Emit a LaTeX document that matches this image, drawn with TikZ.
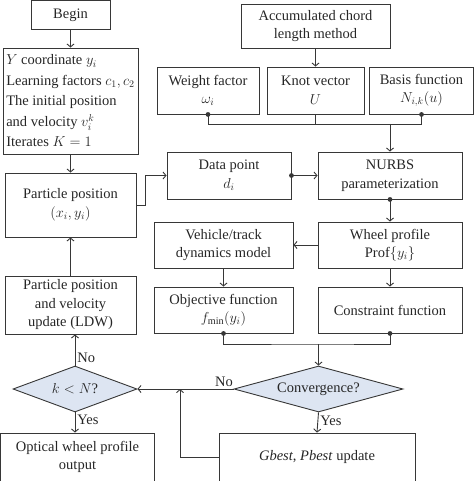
\documentclass[tikz,border=0pt]{standalone}
\usepackage{fontspec}
\setmainfont{Liberation Serif}
\usetikzlibrary{shapes.geometric,arrows.meta}
\definecolor{decfill}{RGB}{221,229,242}
\definecolor{linegray}{RGB}{55,55,55}

\begin{document}
\begin{tikzpicture}[x=1pt,y=-1pt,
  box/.style={draw=linegray,line width=0.9pt,align=center,inner sep=2pt,text=black!85,font=\fontsize{14.5}{18.5}\selectfont},
  dec/.style={diamond,draw=linegray,line width=0.9pt,fill=decfill,inner sep=0pt,text=black!85,font=\fontsize{14.5}{18.5}\selectfont},
  ln/.style={draw=linegray,line width=0.9pt},
  arr/.style={ln,-{Straight Barb[length=3pt,width=7pt]}},
  lab/.style={text=black!85,font=\fontsize{14.5}{18.5}\selectfont,inner sep=2pt}]
\useasboundingbox (0,0) rectangle (474,481);

\node[box,minimum width=79pt,minimum height=29pt] (begin) at (70.5,15) {Begin};
\node[box,minimum width=135pt,minimum height=106pt,align=left,font=\fontsize{14.5}{20.5}\selectfont] (init) at (70.5,101)
  {$Y$ coordinate $y_i$\\Learning factors $c_1, c_2$\\The initial position\\and velocity $v_i^k$\\Iterates $K = 1$};
\node[box,minimum width=131pt,minimum height=64pt] (pos) at (70.5,205) {Particle position\\$(x_i, y_i)$};
\node[box,minimum width=131pt,minimum height=58pt] (upd) at (70.5,305) {Particle position\\and velocity\\update (LDW)};
\node[dec,aspect=2.7,minimum width=124pt,minimum height=46pt] (kn) at (75,389) {$k < N$?};
\node[box,minimum width=154pt,minimum height=48pt] (out) at (77.5,457) {Optical wheel profile\\output};

\node[box,minimum width=149pt,minimum height=44pt] (acc) at (315.5,26) {Accumulated chord\\length method};
\node[box,minimum width=102pt,minimum height=47pt] (wf) at (208,90.5) {Weight factor\\$\omega_i$};
\node[box,minimum width=97pt,minimum height=47pt] (kv) at (315.5,90.5) {Knot vector\\$U$};
\node[box,minimum width=104pt,minimum height=47pt] (bf) at (421.5,90.5) {Basis function\\$N_{i,k}(u)$};
\node[box,minimum width=124pt,minimum height=47pt] (dp) at (229,175.5) {Data point\\$d_i$};
\node[box,minimum width=144pt,minimum height=47pt] (nurbs) at (390,175.5) {NURBS\\parameterization};
\node[box,minimum width=139pt,minimum height=46pt] (veh) at (223.5,245) {Vehicle/track\\dynamics model};
\node[box,minimum width=144pt,minimum height=46pt] (wp) at (390,245) {Wheel profile\\Prof$\{y_i\}$};
\node[box,minimum width=139pt,minimum height=46pt] (obj) at (223.5,310) {Objective function\\$f_{\min}(y_i)$};
\node[box,minimum width=144pt,minimum height=46pt] (con) at (390,310) {Constraint function};
\node[dec,aspect=3.67,minimum width=169pt,minimum height=46pt] (conv) at (318.5,389) {Convergence?};
\node[box,minimum width=196pt,minimum height=48pt] (gb) at (317,457) {\textit{Gbest}, \textit{Pbest} update};

\coordinate (top) at (390,124);
\coordinate (mrg) at (318.5,344);
\coordinate (back) at (180,389);

\draw[arr] (begin) -- (init);
\draw[arr] (init) -- (pos);
\draw[arr] (upd) -- (pos);
\draw[arr] (kn.north) -- (kn.north |- upd.south) node[lab,pos=0.25,right]{No};
\draw[arr] (kn.south) -- (kn.south |- out.north) node[lab,pos=0.35,right]{Yes};
\draw[arr] (conv.west) -- (kn.east) node[lab,pos=0.1,above]{No};
\draw[arr] (conv.south) -- (gb.north) node[lab,pos=0.4,right]{Yes};
\draw[arr] (gb.west) -| (back);

\draw[arr] (acc) -- (kv);
\draw[ln] (wf.south) -- ++(0,10) -| (bf.south);
\draw[ln] (kv.south) -- (kv.south |- top);
\draw[arr] (top) -- (nurbs);
\draw[arr] (pos.east) -- ++(9,0) |- (dp.west);
\draw[arr] (dp.east) -- (nurbs.west);
\draw[arr] (nurbs) -- (wp);
\draw[arr] (wp) -- (veh);
\draw[arr] (veh) -- (obj);
\draw[arr] (wp) -- (con);
\draw[ln] (obj.south) |- (mrg) -| (con.south);
\draw[arr] (mrg) -- (conv.north);

\fill[linegray] (wf.south) circle[radius=2.4pt] (bf.south) circle[radius=2.4pt]
  (dp.east) circle[radius=2.4pt] (nurbs.south) circle[radius=2.4pt]
  (obj.south) circle[radius=2.4pt] (con.south) circle[radius=2.4pt];

\end{tikzpicture}
\end{document}
